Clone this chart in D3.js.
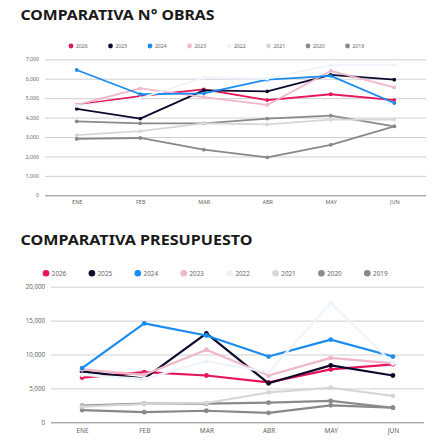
<!DOCTYPE html>
<html><head><meta charset="utf-8">
<script src="https://cdn.jsdelivr.net/npm/d3@7/dist/d3.min.js"></script>
<style>
html,body{margin:0;padding:0;background:#fff;}
svg{display:block;font-family:"Noto Sans",Inter,sans-serif;}
</style></head>
<body>
<svg id="c" width="446" height="443"></svg>
<script>
const months = ["ENE","FEB","MAR","ABR","MAY","JUN"];
const years = ["2026","2025","2024","2023","2022","2021","2020","2019"];
const colors = ["#e8145a","#0b0b2c","#1a8cf0","#f0b6c9","#eef4fb","#d6d6d6","#8a8a8a","#888888"];

// Nº obras
const obras2026 = [4650,5100,5450,4900,5200,4900];
const obras2025 = [4450,3950,5400,5350,6200,5950];
const obras2024 = [6450,5200,5250,5950,6150,4750];
const obras2023 = [4650,5500,5050,4650,6400,5550];
const obras2022 = [4600,5000,6050,6000,6700,6700];
const obras2021 = [3100,3300,3700,3650,3900,3900];
const obras2020 = [3800,3700,3700,3950,4100,3550];
const obras2019 = [2900,2950,2350,1950,2600,3550];
const obrasTicks = [0,1000,2000,3000,4000,5000,6000,7000];

// Presupuesto
const pres2026 = [6600,7400,6900,5900,7800,8550];
const pres2025 = [7500,6450,13100,5750,8400,6900];
const pres2024 = [8000,14600,12800,9700,12200,9700];
const pres2023 = [7800,7000,10700,6900,9500,8700];
const pres2022 = [7000,6400,9000,7400,17600,8700];
const pres2021 = [2300,2700,2850,4400,5100,3900];
const pres2020 = [2450,2750,2750,2900,3150,2150];
const pres2019 = [1800,1500,1700,1400,2500,2150];
const presTicks = [0,5000,10000,15000,20000];

const svg = d3.select("#c");

function drawChart(cfg){
  const g = svg.append("g");
  g.append("text").attr("x",20.5).attr("y",cfg.titleY)
    .attr("font-size",cfg.titleSize).attr("font-weight",700).attr("fill","#1a1a1a")
    .attr("textLength",cfg.titleW).attr("lengthAdjust","spacingAndGlyphs")
    .text(cfg.title);
  years.forEach((yr,i)=>{
    const lx = cfg.legX0 + i*cfg.legStep;
    g.append("circle").attr("cx",lx).attr("cy",cfg.legY).attr("r",cfg.legR).attr("fill",colors[i]);
    g.append("text").attr("x",lx+cfg.legR+2.5).attr("y",cfg.legY+cfg.legFont*0.36)
      .attr("font-size",cfg.legFont).attr("fill","#666").text(yr);
  });
  const x = d3.scalePoint().domain(months).range([cfg.x0,cfg.x1]).padding(0.5);
  const y = d3.scaleLinear().domain([0,cfg.max]).range([cfg.y0,cfg.y1]);
  const ya = g.append("g").attr("transform",`translate(${cfg.x0},0)`)
    .call(d3.axisLeft(y).tickValues(cfg.ticks).tickFormat(d3.format(",")).tickSize(-(cfg.x1-cfg.x0)).tickPadding(cfg.tickPad));
  ya.select(".domain").remove();
  ya.selectAll(".tick line").attr("stroke","#c4c4c4").attr("stroke-width",0.8);
  ya.selectAll(".tick text").attr("font-size",cfg.tickFont).attr("fill","#666").attr("font-family","\"Noto Sans\",sans-serif");
  ya.selectAll(".tick").filter(d=>d===0).select("line").attr("stroke","#888").attr("stroke-width",1);
  const xa = g.append("g").attr("transform",`translate(0,${cfg.y0})`)
    .call(d3.axisBottom(x).tickSize(0).tickPadding(cfg.xPad));
  xa.select(".domain").remove();
  xa.selectAll(".tick text").attr("font-size",cfg.xFont).attr("fill","#666").attr("font-family","\"Noto Sans\",sans-serif");
  const line = d3.line().x((d,i)=>x(months[i])).y(d=>y(d));
  const order = [7,6,5,0,1,3,2,4];
  order.forEach(i=>{
    const vals = cfg.series[i];
    g.append("path").datum(vals).attr("d",line).attr("fill","none")
      .attr("stroke",colors[i]).attr("stroke-width",cfg.lw).attr("stroke-linejoin","round");
    g.selectAll(null).data(vals).enter().append("circle")
      .attr("cx",(d,j)=>x(months[j])).attr("cy",d=>y(d)).attr("r",cfg.pr).attr("fill",colors[i]);
  });
}

drawChart({
  title:"COMPARATIVA N° OBRAS", titleY:19.5, titleSize:13.5, titleW:194,
  legX0:71, legStep:39.5, legY:46, legR:2.4, legFont:5.2,
  x0:45, x1:426, y0:195.3, y1:59.3, max:7000, ticks:obrasTicks,
  tickPad:6, tickFont:5.2, xPad:5, xFont:5.5,
  lw:1.8, pr:1.9,
  series:[obras2026,obras2025,obras2024,obras2023,obras2022,obras2021,obras2020,obras2019]
});
drawChart({
  title:"COMPARATIVA PRESUPUESTO", titleY:245, titleSize:13.5, titleW:232,
  legX0:46, legStep:45.9, legY:273.3, legR:3.3, legFont:6.3,
  x0:51, x1:424, y0:422.3, y1:286.7, max:20000, ticks:presTicks,
  tickPad:6, tickFont:6.2, xPad:6, xFont:6.5,
  lw:2.2, pr:2.4,
  series:[pres2026,pres2025,pres2024,pres2023,pres2022,pres2021,pres2020,pres2019]
});
</script>
</body></html>
